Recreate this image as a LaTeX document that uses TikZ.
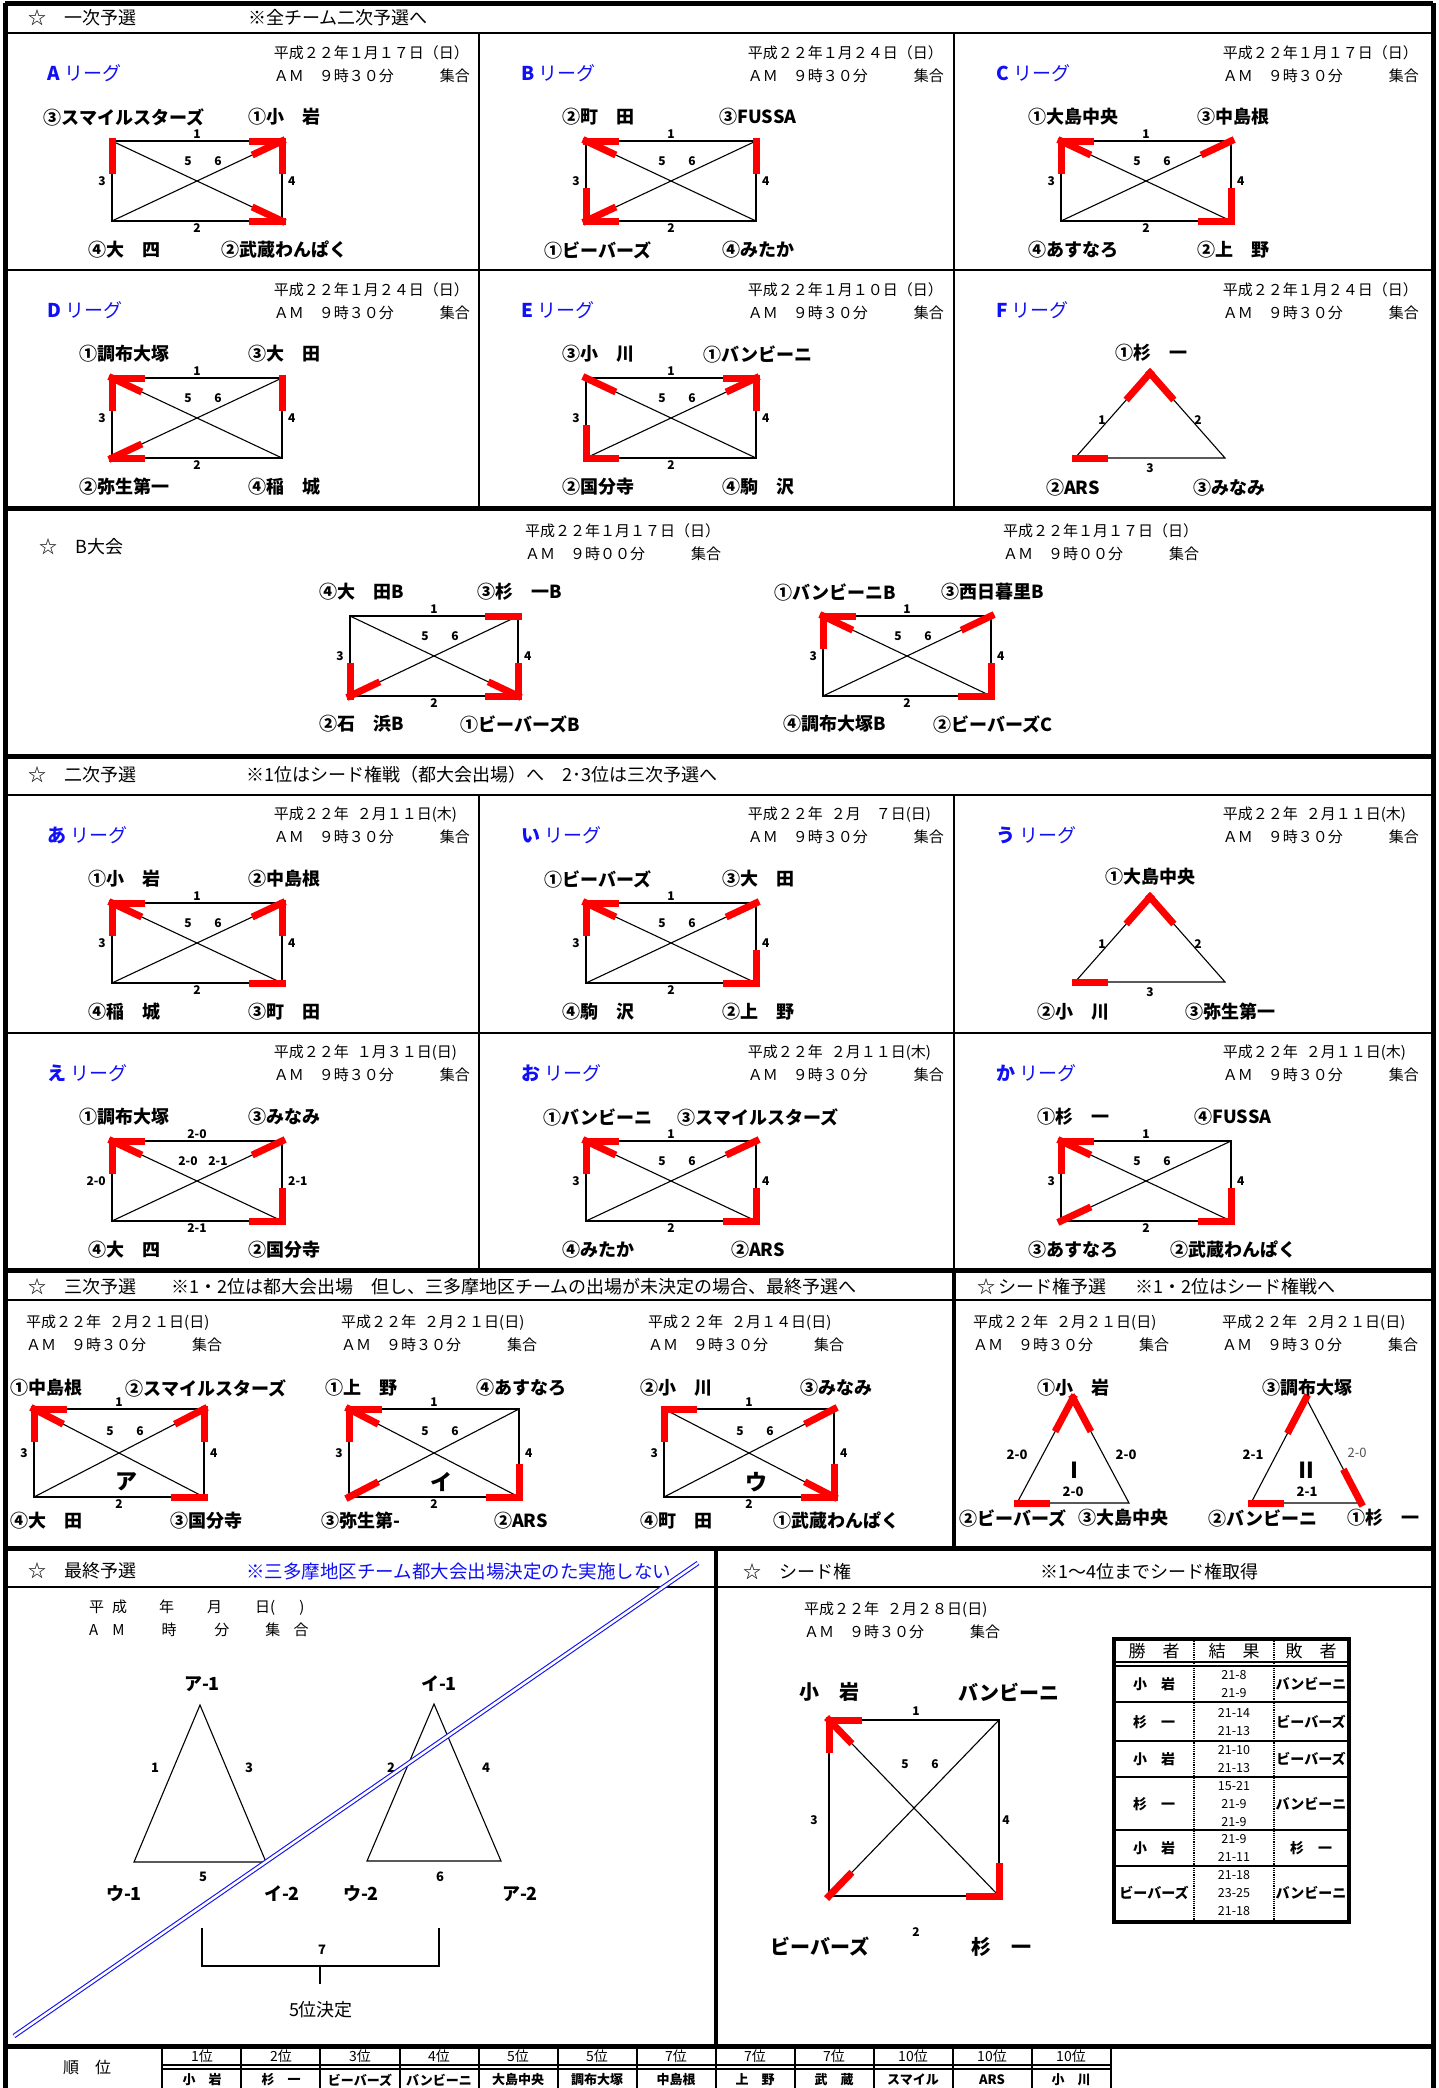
\documentclass[tikz,border=0pt]{standalone}
\usepackage{fontspec}
\setmainfont{Noto Sans CJK JP}
\usetikzlibrary{calc}
\definecolor{markred}{HTML}{FF0000}
\definecolor{leagueblue}{HTML}{1010F5}
\definecolor{scoregray}{HTML}{505050}

% league with four teams: a=top left, b=top right, c=bottom left, d=bottom right
\newcommand{\rectleague}[5]{%
  \coordinate (#1a) at (#2,#3);
  \coordinate (#1b) at (#2+#4,#3);
  \coordinate (#1c) at (#2,#3+#5);
  \coordinate (#1d) at (#2+#4,#3+#5);
  \coordinate (#1m5) at (#2+0.5*#4-9,#3+0.25*#5);
  \coordinate (#1m6) at (#2+0.5*#4+21,#3+0.25*#5);
  \draw[netline] (#1a) -- (#1b) -- (#1d) -- (#1c) -- cycle;
  \draw[netline] (#1a) -- (#1d);
  \draw[netline] (#1b) -- (#1c);
}
% league with three teams: t=top, l=bottom left, r=bottom right
\newcommand{\trileague}[5]{%
  \coordinate (#1t) at (#2,#3);
  \coordinate (#1l) at (#2-#4,#3+#5);
  \coordinate (#1r) at (#2+#4,#3+#5);
  \draw[netline] (#1t) -- (#1l) -- (#1r) -- cycle;
}
\newcommand{\edgenums}[7]{%
  \node[numlabel, anchor=south] (#1n1) at ($(#1a)!0.5!(#1b)$) {#2};
  \node[numlabel, anchor=north] (#1n2) at ($(#1c)!0.5!(#1d)$) {#3};
  \node[numlabel, anchor=east, inner xsep=6pt] (#1n3) at ($(#1a)!0.5!(#1c)$) {#4};
  \node[numlabel, anchor=west, inner xsep=6pt] (#1n4) at ($(#1b)!0.5!(#1d)$) {#5};
  \node[numlabel] (#1n5) at (#1m5) {#6};
  \node[numlabel] (#1n6) at (#1m6) {#7};
}
\newcommand{\teams}[7]{%
  \node[teamname] (#1ta) at ($(#1a)+(12,#2)$) {#4};
  \node[teamname] (#1tb) at ($(#1b)+(2,#2)$) {#5};
  \node[teamname] (#1tc) at ($(#1c)+(12,#3)$) {#6};
  \node[teamname] (#1td) at ($(#1d)+(2,#3)$) {#7};
}
% red win mark from a team corner toward the opponent
\newcommand{\win}[3][33pt]{\draw[winmark] ($(#2)!-3.5pt!(#3)$) -- ($(#2)!#1!(#3)$);}

\begin{document}
\begin{tikzpicture}[
  x=1pt, y=-1pt,
  netline/.style={line width=1.1pt},
  winmark/.style={draw=markred, line width=7pt},
  numlabel/.style={font=\bfseries\fontsize{12}{12}\selectfont, inner sep=2pt},
  teamname/.style={font=\bfseries\fontsize{18}{18}\selectfont, inner sep=0pt},
  leaguetext/.style={font=\fontsize{19}{19}\selectfont, text=leagueblue, anchor=west, inner sep=0pt},
  datetext/.style={font=\fontsize{15}{23}\selectfont, align=left, text width=196pt, inner sep=0pt},
  headtext/.style={font=\fontsize{18}{18}\selectfont, anchor=west, inner sep=0pt},
  framethick/.style={line width=5pt},
  framethin/.style={line width=2.5pt},
  framemid/.style={line width=3.5pt},
  cancelline/.style={draw=leagueblue, double=white, double distance=2.5pt, line width=1.1pt},
  cellhead/.style={font=\fontsize{17}{17}\selectfont, inner sep=0pt},
  cellname/.style={font=\bfseries\fontsize{14}{14}\selectfont, inner sep=0pt},
  cellscore/.style={font=\fontsize{12.5}{18}\selectfont, align=center, inner sep=0pt},
  rankhead/.style={font=\fontsize{14}{14}\selectfont, inner sep=0pt},
  rankname/.style={font=\bfseries\fontsize{13}{13}\selectfont, inner sep=0pt}
]
\useasboundingbox (0,0) rectangle (1439,2088);

% frame
\draw[framethick] (5,3) -- (1433,3);
\draw[framethick] (5,3) -- (5,2095);
\draw[framethick] (1433,3) -- (1433,2095);
\draw[framethin] (5,33) -- (1433,33);
\draw[framethin] (5,270) -- (1433,270);
\draw[framethick] (5,508) -- (1433,508);
\draw[framethick] (5,756) -- (1433,756);
\draw[framethin] (5,795) -- (1433,795);
\draw[framethin] (5,1033) -- (1433,1033);
\draw[framethick] (5,1270) -- (1433,1270);
\draw[framethin] (5,1300) -- (1433,1300);
\draw[framethick] (5,1548) -- (1433,1548);
\draw[framethin] (5,1587) -- (1433,1587);
\draw[framethick] (5,2046) -- (1433,2046);
\draw[framethin] (479,33) -- (479,508) (954,33) -- (954,508);
\draw[framethin] (479,795) -- (479,1270) (954,795) -- (954,1270);
\draw[framemid] (954,1270) -- (954,1548);
\draw[framemid] (716,1548) -- (716,2046);

% headings
\node[headtext] (hd1) at (28,18) {☆　一次予選};
\node[headtext] (hd1note) at (248,18) {※全チーム二次予選へ};
\node[headtext] (hdB) at (39,547) {☆　B大会};
\node[headtext] (hd2) at (28,775) {☆　二次予選};
\node[headtext] (hd2note) at (246,775) {※1位はシード権戦（都大会出場）へ　2･3位は三次予選へ};
\node[headtext] (hd3) at (28,1287) {☆　三次予選};
\node[headtext] (hd3note) at (171,1287) {※1・2位は都大会出場　但し、三多摩地区チームの出場が未決定の場合、最終予選へ};
\node[headtext] (hdS) at (977,1287) {☆\,シード権予選};
\node[headtext] (hdSnote) at (1135,1287) {※1・2位はシード権戦へ};
\node[headtext] (hdF) at (28,1571) {☆　最終予選};
\node[headtext, text=leagueblue, font=\fontsize{18.5}{18.5}\selectfont] (hdFnote) at (246,1571) {※三多摩地区チーム都大会出場決定のた実施しない};
\node[headtext] (hdK) at (743,1572) {☆　シード権};
\node[headtext] (hdKnote) at (1040,1572) {※1～4位までシード権取得};

% first round
\node[leaguetext] (labA) at (47,73) {\textbf{A} リーグ};
\node[datetext, anchor=north east] (dateA) at (470,45) {平成２２年１月１７日（日）\\ＡＭ　９時３０分\hfill 集合};
\rectleague{A}{112}{141}{170}{80}
\win{Aa}{Ac} \win{Ab}{Aa} \win{Ab}{Ad} \win{Ab}{Ac} \win{Ad}{Ac} \win{Ad}{Aa}
\edgenums{A}{1}{2}{3}{4}{5}{6}
\teams{A}{-24}{29}{③スマイルスターズ}{①小　岩}{④大　四}{②武蔵わんぱく}

\node[leaguetext] (labB) at (521,73) {\textbf{B} リーグ};
\node[datetext, anchor=north east] (dateB) at (944,45) {平成２２年１月２４日（日）\\ＡＭ　９時３０分\hfill 集合};
\rectleague{B}{586}{141}{170}{80}
\win{Ba}{Bb} \win{Ba}{Bd} \win{Bb}{Bd} \win{Bc}{Ba} \win{Bc}{Bd} \win{Bc}{Bb}
\edgenums{B}{1}{2}{3}{4}{5}{6}
\teams{B}{-24}{29}{②町　田}{③FUSSA}{①ビーバーズ}{④みたか}

\node[leaguetext] (labC) at (996,73) {\textbf{C} リーグ};
\node[datetext, anchor=north east] (dateC) at (1419,45) {平成２２年１月１７日（日）\\ＡＭ　９時３０分\hfill 集合};
\rectleague{C}{1061}{141}{170}{80}
\win{Ca}{Cb} \win{Ca}{Cc} \win{Ca}{Cd} \win{Cb}{Cc} \win{Cd}{Cb} \win{Cd}{Cc}
\edgenums{C}{1}{2}{3}{4}{5}{6}
\teams{C}{-24}{29}{①大島中央}{③中島根}{④あすなろ}{②上　野}

\node[leaguetext] (labD) at (47,310) {\textbf{D} リーグ};
\node[datetext, anchor=north east] (dateD) at (470,282) {平成２２年１月２４日（日）\\ＡＭ　９時３０分\hfill 集合};
\rectleague{D}{112}{378}{170}{80}
\win{Da}{Db} \win{Da}{Dc} \win{Da}{Dd} \win{Db}{Dd} \win{Dc}{Dd} \win{Dc}{Db}
\edgenums{D}{1}{2}{3}{4}{5}{6}
\teams{D}{-24}{29}{①調布大塚}{③大　田}{②弥生第一}{④稲　城}

\node[leaguetext] (labE) at (521,310) {\textbf{E} リーグ};
\node[datetext, anchor=north east] (dateE) at (944,282) {平成２２年１月１０日（日）\\ＡＭ　９時３０分\hfill 集合};
\rectleague{E}{586}{378}{170}{80}
\win{Ea}{Ed} \win{Eb}{Ea} \win{Eb}{Ec} \win{Eb}{Ed} \win{Ec}{Ea} \win{Ec}{Ed}
\edgenums{E}{1}{2}{3}{4}{5}{6}
\teams{E}{-24}{29}{③小　川}{①バンビーニ}{②国分寺}{④駒　沢}

\node[leaguetext] (labF) at (996,310) {\textbf{F} リーグ};
\node[datetext, anchor=north east] (dateF) at (1419,282) {平成２２年１月２４日（日）\\ＡＭ　９時３０分\hfill 集合};
\trileague{F}{1150}{373}{75}{85}
\win[36pt]{Ft}{Fl} \win[36pt]{Ft}{Fr} \win{Fl}{Fr}
\node[numlabel] (Fn1) at (1102,420) {1};
\node[numlabel] (Fn2) at (1198,420) {2};
\node[numlabel] (Fn3) at (1150,468) {3};
\node[teamname] (Fta) at (1151,353) {①杉　一};
\node[teamname] (Ftl) at (1073,488) {②ARS};
\node[teamname] (Ftr) at (1229,488) {③みなみ};

% B tournament
\node[datetext, anchor=north west] (dateP) at (525,523) {平成２２年１月１７日（日）\\ＡＭ　９時００分\hfill 集合};
\node[datetext, anchor=north west] (dateQ) at (1003,523) {平成２２年１月１７日（日）\\ＡＭ　９時００分\hfill 集合};
\rectleague{P}{350}{616}{168}{80}
\win{Pb}{Pa} \win{Pc}{Pa} \win{Pc}{Pb} \win{Pd}{Pb} \win{Pd}{Pc} \win{Pd}{Pa}
\edgenums{P}{1}{2}{3}{4}{5}{6}
\teams{P}{-24}{28}{④大　田B}{③杉　一B}{②石　浜B}{①ビーバーズB}
\rectleague{Q}{823}{616}{168}{80}
\win{Qa}{Qb} \win{Qa}{Qc} \win{Qa}{Qd} \win{Qb}{Qc} \win{Qd}{Qb} \win{Qd}{Qc}
\edgenums{Q}{1}{2}{3}{4}{5}{6}
\teams{Q}{-24}{28}{①バンビーニB}{③西日暮里B}{④調布大塚B}{②ビーバーズC}

% second round
\node[leaguetext] (labHa) at (47,835) {\textbf{あ} リーグ};
\node[datetext, anchor=north east] (dateHa) at (470,807) {平成２２年\hspace{8pt}２月１１日(木)\\ＡＭ　９時３０分\hfill 集合};
\rectleague{Ha}{112}{903}{170}{80}
\win{Haa}{Hab} \win{Haa}{Hac} \win{Haa}{Had} \win{Hab}{Had} \win{Hab}{Hac} \win{Had}{Hac}
\edgenums{Ha}{1}{2}{3}{4}{5}{6}
\teams{Ha}{-24}{29}{①小　岩}{②中島根}{④稲　城}{③町　田}

\node[leaguetext] (labHi) at (521,835) {\textbf{い} リーグ};
\node[datetext, anchor=north east] (dateHi) at (944,807) {平成２２年\hspace{8pt}２月　７日(日)\\ＡＭ　９時３０分\hfill 集合};
\rectleague{Hi}{586}{903}{170}{80}
\win{Hia}{Hib} \win{Hia}{Hic} \win{Hia}{Hid} \win{Hib}{Hic} \win{Hid}{Hib} \win{Hid}{Hic}
\edgenums{Hi}{1}{2}{3}{4}{5}{6}
\teams{Hi}{-24}{29}{①ビーバーズ}{③大　田}{④駒　沢}{②上　野}

\node[leaguetext] (labHu) at (996,835) {\textbf{う} リーグ};
\node[datetext, anchor=north east] (dateHu) at (1419,807) {平成２２年\hspace{8pt}２月１１日(木)\\ＡＭ　９時３０分\hfill 集合};
\trileague{Hu}{1150}{897}{75}{85}
\win[36pt]{Hut}{Hul} \win[36pt]{Hut}{Hur} \win{Hul}{Hur}
\node[numlabel] (Hun1) at (1102,944) {1};
\node[numlabel] (Hun2) at (1198,944) {2};
\node[numlabel] (Hun3) at (1150,992) {3};
\node[teamname] (Huta) at (1150,877) {①大島中央};
\node[teamname] (Hutl) at (1073,1012) {②小　川};
\node[teamname] (Hutr) at (1230,1012) {③弥生第一};

\node[leaguetext] (labHe) at (47,1073) {\textbf{え} リーグ};
\node[datetext, anchor=north east] (dateHe) at (470,1045) {平成２２年\hspace{8pt}１月３１日(日)\\ＡＭ　９時３０分\hfill 集合};
\rectleague{He}{112}{1141}{170}{80}
\win{Hea}{Heb} \win{Hea}{Hec} \win{Hea}{Hed} \win{Heb}{Hec} \win{Hed}{Heb} \win{Hed}{Hec}
\edgenums{He}{2-0}{2-1}{2-0}{2-1}{2-0}{2-1}
\teams{He}{-24}{29}{①調布大塚}{③みなみ}{④大　四}{②国分寺}

\node[leaguetext] (labHo) at (521,1073) {\textbf{お} リーグ};
\node[datetext, anchor=north east] (dateHo) at (944,1045) {平成２２年\hspace{8pt}２月１１日(木)\\ＡＭ　９時３０分\hfill 集合};
\rectleague{Ho}{586}{1141}{170}{80}
\win{Hoa}{Hob} \win{Hoa}{Hoc} \win{Hoa}{Hod} \win{Hob}{Hoc} \win{Hod}{Hob} \win{Hod}{Hoc}
\edgenums{Ho}{1}{2}{3}{4}{5}{6}
\teams{Ho}{-24}{29}{①バンビーニ}{③スマイルスターズ}{④みたか}{②ARS}

\node[leaguetext] (labHk) at (996,1073) {\textbf{か} リーグ};
\node[datetext, anchor=north east] (dateHk) at (1419,1045) {平成２２年\hspace{8pt}２月１１日(木)\\ＡＭ　９時３０分\hfill 集合};
\rectleague{Hk}{1061}{1141}{170}{80}
\win{Hka}{Hkb} \win{Hka}{Hkc} \win{Hka}{Hkd} \win{Hkc}{Hkb} \win{Hkd}{Hkb} \win{Hkd}{Hkc}
\edgenums{Hk}{1}{2}{3}{4}{5}{6}
\teams{Hk}{-24}{29}{①杉　一}{④FUSSA}{③あすなろ}{②武蔵わんぱく}

% third round
\node[datetext, anchor=north west] (dateTa) at (26,1315) {平成２２年\hspace{8pt}２月２１日(日)\\ＡＭ　９時３０分\hfill 集合};
\node[datetext, anchor=north west] (dateTi) at (341,1315) {平成２２年\hspace{8pt}２月２１日(日)\\ＡＭ　９時３０分\hfill 集合};
\node[datetext, anchor=north west] (dateTu) at (648,1315) {平成２２年\hspace{8pt}２月１４日(日)\\ＡＭ　９時３０分\hfill 集合};
\rectleague{Ta}{34}{1409}{170}{88}
\win{Taa}{Tab} \win{Taa}{Tac} \win{Taa}{Tad} \win{Tab}{Tad} \win{Tab}{Tac} \win{Tad}{Tac}
\edgenums{Ta}{1}{2}{3}{4}{5}{6}
\teams{Ta}{-21}{24}{①中島根}{②スマイルスターズ}{④大　田}{③国分寺}
\node[teamname, font=\bfseries\fontsize{22}{22}\selectfont] (Tal) at (126,1482) {ア};
\rectleague{Ti}{349}{1409}{170}{88}
\win{Tia}{Tib} \win{Tia}{Tic} \win{Tia}{Tid} \win{Tic}{Tib} \win{Tid}{Tib} \win{Tid}{Tic}
\edgenums{Ti}{1}{2}{3}{4}{5}{6}
\teams{Ti}{-21}{24}{①上　野}{④あすなろ}{③弥生第-}{②ARS}
\node[teamname, font=\bfseries\fontsize{22}{22}\selectfont] (Til) at (441,1482) {イ};
\rectleague{Tu}{664}{1409}{170}{88}
\win{Tua}{Tub} \win{Tua}{Tuc} \win{Tub}{Tuc} \win{Tud}{Tub} \win{Tud}{Tuc} \win{Tud}{Tua}
\edgenums{Tu}{1}{2}{3}{4}{5}{6}
\teams{Tu}{-21}{24}{②小　川}{③みなみ}{④町　田}{①武蔵わんぱく}
\node[teamname, font=\bfseries\fontsize{22}{22}\selectfont] (Tul) at (756,1482) {ウ};

% seed qualifier
\node[datetext, anchor=north west] (dateS1) at (973,1315) {平成２２年\hspace{8pt}２月２１日(日)\\ＡＭ　９時３０分\hfill 集合};
\node[datetext, anchor=north west] (dateS2) at (1222,1315) {平成２２年\hspace{8pt}２月２１日(日)\\ＡＭ　９時３０分\hfill 集合};
\trileague{S1}{1073}{1398}{56}{105}
\win[38pt]{S1t}{S1l} \win[38pt]{S1t}{S1r} \win{S1l}{S1r}
\node[numlabel, font=\bfseries\fontsize{13}{13}\selectfont] (S1n1) at (1017,1455) {2-0};
\node[numlabel, font=\bfseries\fontsize{13}{13}\selectfont] (S1n2) at (1126,1455) {2-0};
\node[numlabel, font=\bfseries\fontsize{13}{13}\selectfont] (S1n3) at (1073,1492) {2-0};
\node[teamname, font=\bfseries\fontsize{22}{22}\selectfont] (S1no) at (1074,1470) {Ⅰ};
\node[teamname] (S1ta) at (1073,1388) {①小　岩};
\node[teamname] (S1tl) at (1013,1518) {②ビーバーズ};
\node[teamname] (S1tr) at (1123,1518) {③大島中央};
\trileague{S2}{1306}{1398}{55}{105}
\win[40pt]{S2t}{S2l} \win[38pt]{S2r}{S2t} \win{S2l}{S2r}
\node[numlabel, font=\bfseries\fontsize{13}{13}\selectfont] (S2n1) at (1253,1455) {2-1};
\node[numlabel, font=\fontsize{13}{13}\selectfont, text=scoregray] (S2n2) at (1357,1453) {2-0};
\node[numlabel, font=\bfseries\fontsize{13}{13}\selectfont] (S2n3) at (1307,1492) {2-1};
\node[teamname, font=\bfseries\fontsize{22}{22}\selectfont] (S2no) at (1306,1470) {Ⅱ};
\node[teamname] (S2ta) at (1307,1388) {③調布大塚};
\node[teamname] (S2tl) at (1263,1518) {②バンビーニ};
\node[teamname] (S2tr) at (1383,1518) {①杉　一};

% final qualifier
\node[datetext, text width=240pt, anchor=north west] (dateZ) at (89,1600) {平\hspace{8pt}成\hspace{32pt}年\hspace{33pt}月\hspace{33pt}日(\hspace{24pt})\\A\hspace{14pt}M\hspace{37pt}時\hspace{38pt}分\hspace{36pt}集\hspace{13pt}合};
\trileague{Za}{200}{1705}{66}{157}
\trileague{Zi}{434}{1704}{67}{157}
\node[numlabel, font=\bfseries\fontsize{13}{13}\selectfont] (Zan1) at (155,1768) {1};
\node[numlabel, font=\bfseries\fontsize{13}{13}\selectfont] (Zan3) at (249,1768) {3};
\node[numlabel, font=\bfseries\fontsize{13}{13}\selectfont] (Zan5) at (203,1877) {5};
\node[numlabel, font=\bfseries\fontsize{13}{13}\selectfont] (Zin2) at (391,1768) {2};
\node[numlabel, font=\bfseries\fontsize{13}{13}\selectfont] (Zin4) at (486,1768) {4};
\node[numlabel, font=\bfseries\fontsize{13}{13}\selectfont] (Zin6) at (440,1877) {6};
\node[teamname] (Zata) at (202,1684) {ア-1};
\node[teamname] (Zatl) at (124,1894) {ウ-1};
\node[teamname] (Zatr) at (282,1894) {イ-2};
\node[teamname] (Zita) at (439,1684) {イ-1};
\node[teamname] (Zitl) at (361,1894) {ウ-2};
\node[teamname] (Zitr) at (520,1894) {ア-2};
\coordinate (brL) at (202,1928);
\coordinate (brR) at (439,1928);
\coordinate (brS) at (320,1966);
\draw[netline] (brL) -- ++(0,38) -| (brR);
\draw[netline] (brS) -- ++(0,18);
\node[numlabel, font=\bfseries\fontsize{13}{13}\selectfont] (Zn7) at (322,1950) {7};
\node[headtext, anchor=center] (Zfifth) at (321,2010) {5位決定};
\coordinate (xA) at (14,2036);
\coordinate (xB) at (698,1563);
\draw[cancelline] (xA) -- (xB);

% seed match
\node[datetext, anchor=north west] (dateK) at (804,1602) {平成２２年\hspace{8pt}２月２８日(日)\\ＡＭ　９時３０分\hfill 集合};
\rectleague{K}{829}{1720}{170}{176}
\win{Ka}{Kb} \win{Ka}{Kc} \win{Ka}{Kd} \win{Kc}{Kb} \win{Kd}{Kb} \win{Kd}{Kc}
\node[numlabel] (Kn1) at (916,1711) {1};
\node[numlabel] (Kn2) at (916,1932) {2};
\node[numlabel] (Kn3) at (814,1820) {3};
\node[numlabel] (Kn4) at (1006,1820) {4};
\node[numlabel] (Kn5) at (Km5) {5};
\node[numlabel] (Kn6) at (Km6) {6};
\node[teamname, font=\bfseries\fontsize{20}{20}\selectfont] (Kta) at (829,1692) {小　岩};
\node[teamname, font=\bfseries\fontsize{20}{20}\selectfont] (Ktb) at (1009,1692) {バンビーニ};
\node[teamname, font=\bfseries\fontsize{20}{20}\selectfont] (Ktc) at (820,1947) {ビーバーズ};
\node[teamname, font=\bfseries\fontsize{20}{20}\selectfont] (Ktd) at (1001,1947) {杉　一};

% results table
\draw[line width=3.5pt] (1114,1639) rectangle (1349,1922);
\draw[line width=1.3pt] (1114,1662) -- (1349,1662) (1114,1666) -- (1349,1666);
\draw[line width=2.5pt] (1114,1702) -- (1349,1702) (1114,1741) -- (1349,1741) (1114,1777) -- (1349,1777) (1114,1830) -- (1349,1830) (1114,1866) -- (1349,1866);
\draw[line width=1.2pt, densely dotted] (1194,1639) -- (1194,1922) (1274,1639) -- (1274,1922);
\node[cellhead] (thW) at (1154,1651) {勝　者};
\node[cellhead] (thR) at (1234,1651) {結　果};
\node[cellhead] (thL) at (1311,1651) {敗　者};
\node[cellname] (w1) at (1154,1684) {小　岩};
\node[cellscore] (s1) at (1234,1684) {21-8\\21-9};
\node[cellname] (l1) at (1311,1684) {バンビーニ};
\node[cellname] (w2) at (1154,1722) {杉　一};
\node[cellscore] (s2) at (1234,1722) {21-14\\21-13};
\node[cellname] (l2) at (1311,1722) {ビーバーズ};
\node[cellname] (w3) at (1154,1759) {小　岩};
\node[cellscore] (s3) at (1234,1759) {21-10\\21-13};
\node[cellname] (l3) at (1311,1759) {ビーバーズ};
\node[cellname] (w4) at (1154,1804) {杉　一};
\node[cellscore] (s4) at (1234,1804) {15-21\\21-9\\21-9};
\node[cellname] (l4) at (1311,1804) {バンビーニ};
\node[cellname] (w5) at (1154,1848) {小　岩};
\node[cellscore] (s5) at (1234,1848) {21-9\\21-11};
\node[cellname] (l5) at (1311,1848) {杉　一};
\node[cellname] (w6) at (1154,1893) {ビーバーズ};
\node[cellscore] (s6) at (1234,1893) {21-18\\23-25\\21-18};
\node[cellname] (l6) at (1311,1893) {バンビーニ};

% ranking
\draw[framethin] (162,2046) -- (162,2095) (241,2046) -- (241,2095) (320,2046) -- (320,2095)
  (400,2046) -- (400,2095) (479,2046) -- (479,2095) (558,2046) -- (558,2095)
  (637,2046) -- (637,2095) (716,2046) -- (716,2095) (795,2046) -- (795,2095)
  (874,2046) -- (874,2095) (953,2046) -- (953,2095) (1032,2046) -- (1032,2095)
  (1111,2046) -- (1111,2095);
\draw[line width=1.3pt] (162,2065) -- (1111,2065) (162,2069) -- (1111,2069);
\node[cellhead, font=\fontsize{16}{16}\selectfont] (rkTitle) at (87,2067) {順　位};
\node[rankhead] (rk1) at (202,2056) {1位};
\node[rankhead] (rk2) at (281,2056) {2位};
\node[rankhead] (rk3) at (360,2056) {3位};
\node[rankhead] (rk4) at (439,2056) {4位};
\node[rankhead] (rk5) at (518,2056) {5位};
\node[rankhead] (rk6) at (597,2056) {5位};
\node[rankhead] (rk7) at (676,2056) {7位};
\node[rankhead] (rk8) at (755,2056) {7位};
\node[rankhead] (rk9) at (834,2056) {7位};
\node[rankhead] (rk10) at (913,2056) {10位};
\node[rankhead] (rk11) at (992,2056) {10位};
\node[rankhead] (rk12) at (1071,2056) {10位};
\node[rankname] (rt1) at (202,2080) {小　岩};
\node[rankname] (rt2) at (281,2080) {杉　一};
\node[rankname] (rt3) at (360,2080) {ビーバーズ};
\node[rankname] (rt4) at (439,2080) {バンビーニ};
\node[rankname] (rt5) at (518,2080) {大島中央};
\node[rankname] (rt6) at (597,2080) {調布大塚};
\node[rankname] (rt7) at (676,2080) {中島根};
\node[rankname] (rt8) at (755,2080) {上　野};
\node[rankname] (rt9) at (834,2080) {武　蔵};
\node[rankname] (rt10) at (913,2080) {スマイル};
\node[rankname] (rt11) at (992,2080) {ARS};
\node[rankname] (rt12) at (1071,2080) {小　川};
\end{tikzpicture}
\end{document}
